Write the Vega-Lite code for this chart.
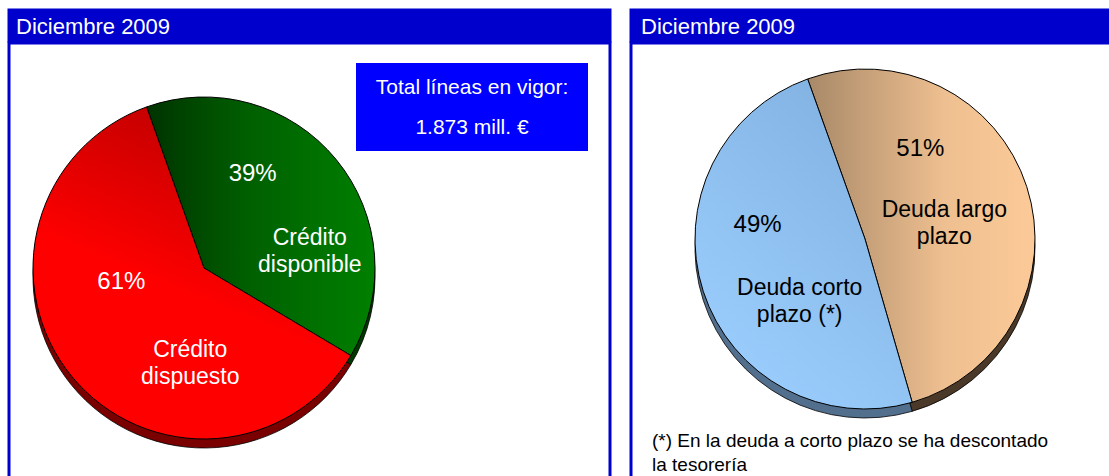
{
  "$schema": "https://vega.github.io/schema/vega-lite/v6.json",
  "background": "white",
  "padding": {"left": 7, "top": 8, "right": 0, "bottom": 0},
  "config": {
    "view": {"stroke": "#0000cc", "strokeWidth": 3, "fill": "white"},
    "font": "Liberation Sans",
    "text": {"font": "Liberation Sans"}
  },
  "datasets": {
    "credito": [
      {"segmento": "Crédito disponible", "etiqueta": "Crédito\ndisponible", "valor": 0.39, "orden": 1},
      {"segmento": "Crédito dispuesto", "etiqueta": "Crédito\ndispuesto", "valor": 0.61, "orden": 2}
    ],
    "deuda": [
      {"segmento": "Deuda largo plazo", "etiqueta": "Deuda largo\nplazo", "valor": 0.51, "orden": 1},
      {"segmento": "Deuda corto plazo (*)", "etiqueta": "Deuda corto\nplazo (*)", "valor": 0.49, "orden": 2}
    ],
    "cabecera": [{"titulo": "Diciembre 2009"}],
    "total": [{"texto": "Total líneas en vigor:\n1.873 mill. €"}],
    "nota": [{"texto": "(*) En la deuda a corto plazo se ha descontado\n\u00a0la tesorería"}]
  },
  "spacing": 17,
  "hconcat": [
    {
      "spacing": -3,
      "vconcat": [
        {
          "width": 601, "height": 31,
          "view": {"fill": "#0000cc", "stroke": "#0000cc", "strokeWidth": 3},
          "data": {"name": "cabecera"},
          "mark": {"type": "text", "x": 7, "y": 24, "align": "left", "baseline": "alphabetic", "fontSize": 22, "color": "white"},
          "encoding": {"text": {"field": "titulo"}}
        },
        {
          "width": 601, "height": 440,
          "view": {"fill": "white", "stroke": "#0000cc", "strokeWidth": 3},
          "data": {"name": "credito"},
          "resolve": {"scale": {"theta": "independent"}},
          "layer": [
            {
              "mark": {"type": "arc", "x": 195, "y": 225, "outerRadius": 171, "yOffset": 9, "stroke": "#000000", "strokeWidth": 0.8},
              "encoding": {
                "theta": {"field": "valor", "type": "quantitative", "stack": true, "scale": {"range": [-0.342, 5.941]}},
                "order": {"field": "orden"},
                "fill": {"condition": {"test": "datum.orden === 1", "value": "#003800"}, "value": "#7a0000"}
              }
            },
            {
              "mark": {"type": "arc", "x": 195, "y": 225, "outerRadius": 171, "stroke": "#000000", "strokeWidth": 1},
              "encoding": {
                "theta": {"field": "valor", "type": "quantitative", "stack": true, "scale": {"range": [-0.342, 5.941]}},
                "order": {"field": "orden"},
                "fill": {
                  "condition": {"test": "datum.orden === 1", "value": {"gradient": "linear", "x1": 0, "y1": 0, "x2": 1, "y2": 0, "stops": [{"offset": 0, "color": "#003300"}, {"offset": 0.45, "color": "#006000"}, {"offset": 1, "color": "#008000"}]}},
                  "value": {"gradient": "linear", "x1": 0.5, "y1": 0, "x2": 0.3, "y2": 0.5, "stops": [{"offset": 0, "color": "#c00000"}, {"offset": 1, "color": "#ff0000"}]}
                }
              }
            },
            {
              "mark": {"type": "text", "x": 195, "y": 225, "radius": 85, "dx": -17, "dy": -40, "fontSize": 24, "color": "white", "baseline": "middle"},
              "encoding": {
                "theta": {"field": "valor", "type": "quantitative", "stack": true, "scale": {"range": [-0.342, 5.941]}},
                "order": {"field": "orden"},
                "text": {"field": "valor", "type": "quantitative", "format": ".0%"}
              }
            },
            {
              "mark": {"type": "text", "x": 195, "y": 225, "radius": 82, "dx": 46, "dy": 26, "fontSize": 23, "lineHeight": 27, "lineBreak": "\n", "color": "white", "baseline": "middle"},
              "encoding": {
                "theta": {"field": "valor", "type": "quantitative", "stack": true, "scale": {"range": [-0.408, 5.875]}},
                "order": {"field": "orden"},
                "text": {"field": "etiqueta"}
              }
            },
            {
              "data": {"name": "total"},
              "mark": {"type": "rect", "x": 347, "x2": 579, "y": 20, "y2": 108, "color": "#0000ff"},
              "encoding": {}
            },
            {
              "data": {"name": "total"},
              "mark": {"type": "text", "x": 463, "y": 51, "align": "center", "baseline": "alphabetic", "fontSize": 21, "lineHeight": 40, "lineBreak": "\n", "color": "white"},
              "encoding": {"text": {"field": "texto"}}
            }
          ]
        }
      ]
    },
    {
      "spacing": -3,
      "vconcat": [
        {
          "width": 490, "height": 31,
          "view": {"fill": "#0000cc", "stroke": "#0000cc", "strokeWidth": 3},
          "data": {"name": "cabecera"},
          "mark": {"type": "text", "x": 10, "y": 24, "align": "left", "baseline": "alphabetic", "fontSize": 22, "color": "white"},
          "encoding": {"text": {"field": "titulo"}}
        },
        {
          "width": 490, "height": 440,
          "view": {"fill": "white", "stroke": "#0000cc", "strokeWidth": 3},
          "data": {"name": "deuda"},
          "resolve": {"scale": {"theta": "independent"}},
          "layer": [
            {
              "mark": {"type": "arc", "x": 234, "y": 196, "outerRadius": 170, "yOffset": 9, "stroke": "#000000", "strokeWidth": 0.8},
              "encoding": {
                "theta": {"field": "valor", "type": "quantitative", "stack": true, "scale": {"range": [-0.344, 5.939]}},
                "order": {"field": "orden"},
                "fill": {"condition": {"test": "datum.orden === 1", "value": "#4a3828"}, "value": "#52708e"}
              }
            },
            {
              "mark": {"type": "arc", "x": 234, "y": 196, "outerRadius": 170, "stroke": "#000000", "strokeWidth": 1},
              "encoding": {
                "theta": {"field": "valor", "type": "quantitative", "stack": true, "scale": {"range": [-0.344, 5.939]}},
                "order": {"field": "orden"},
                "fill": {
                  "condition": {"test": "datum.orden === 1", "value": {"gradient": "linear", "x1": 0, "y1": 0, "x2": 1, "y2": 0, "stops": [{"offset": 0, "color": "#a88968"}, {"offset": 0.6, "color": "#eebf90"}, {"offset": 1, "color": "#fcca98"}]}},
                  "value": {"gradient": "linear", "x1": 0.8, "y1": 0, "x2": 0.2, "y2": 1, "stops": [{"offset": 0, "color": "#80b0e0"}, {"offset": 1, "color": "#9ccfff"}]}
                }
              }
            },
            {
              "mark": {"type": "text", "x": 234, "y": 196, "radius": 90, "dx": -26, "dy": -52, "fontSize": 24, "color": "black", "baseline": "middle"},
              "encoding": {
                "theta": {"field": "valor", "type": "quantitative", "stack": true, "scale": {"range": [-0.473, 5.810]}},
                "order": {"field": "orden"},
                "text": {"field": "valor", "type": "quantitative", "format": ".0%"}
              }
            },
            {
              "mark": {"type": "text", "x": 234, "y": 196, "radius": 82, "dx": 7, "dy": 10, "fontSize": 23, "lineHeight": 27, "lineBreak": "\n", "color": "black", "baseline": "middle"},
              "encoding": {
                "theta": {"field": "valor", "type": "quantitative", "stack": true, "scale": {"range": [-0.522, 5.761]}},
                "order": {"field": "orden"},
                "text": {"field": "etiqueta"}
              }
            },
            {
              "data": {"name": "nota"},
              "mark": {"type": "text", "x": 21, "y": 404, "align": "left", "baseline": "alphabetic", "fontSize": 19, "lineHeight": 24, "lineBreak": "\n", "color": "black"},
              "encoding": {"text": {"field": "texto"}}
            }
          ]
        }
      ]
    }
  ]
}
